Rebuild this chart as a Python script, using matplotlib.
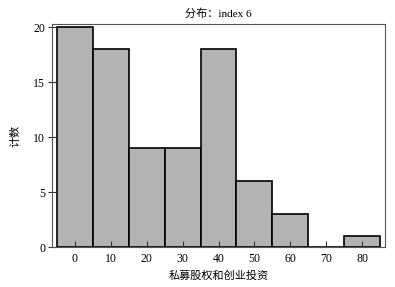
import matplotlib
matplotlib.use("Agg")
import matplotlib.pyplot as plt

plt.rcParams['font.family'] = ['Liberation Serif', 'Noto Sans CJK SC']
plt.rcParams['font.size'] = 8

bin_centers = [0, 10, 20, 30, 40, 50, 60, 70, 80]
counts = [20, 18, 9, 9, 18, 6, 3, 0, 1]
yticks = [0, 5, 10, 15, 20]

fig = plt.figure(figsize=(3.95, 2.87), dpi=100)
ax = fig.add_axes([52/395, 40/287, 333/395, 223/287])

ax.bar(bin_centers, counts, width=10, color='#b3b3b3', edgecolor='black', linewidth=1.2)

ax.set_xlim(-6.4, 86.4)
ax.set_ylim(0, 20.3)
ax.set_xticks(bin_centers)
ax.set_yticks(yticks)
ax.tick_params(axis='x', direction='in', length=4, width=0.8, colors='#333333',
               labelcolor='black', labelsize=8.5, pad=4)
ax.tick_params(axis='y', direction='inout', length=6, width=0.8, colors='#333333',
               labelcolor='black', labelsize=8.5, pad=2)
for s in ax.spines.values():
    s.set_color('#555555')
    s.set_linewidth(0.8)

ax.set_title('分布：index 6', fontsize=8, pad=5)
ax.set_xlabel('私募股权和创业投资', fontsize=8, labelpad=4)
ax.set_ylabel('计数', fontsize=8, labelpad=9)

fig.savefig('out.png', dpi=100)
